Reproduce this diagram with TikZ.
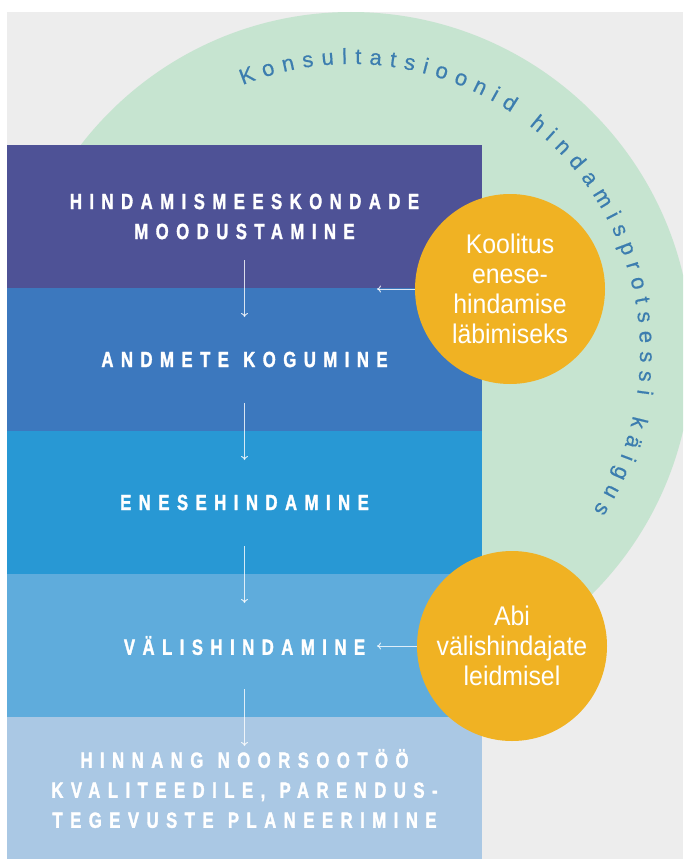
\documentclass[tikz,border=0pt]{standalone}
\usepackage{fontspec}
\setmainfont{Liberation Sans}
\newfontfamily\bandfont{Liberation Sans Bold}[FakeStretch=0.76,LetterSpace=34,FakeBold=1.5]
\newfontfamily\roundfont{Liberation Sans}[FakeStretch=0.92]
\newfontfamily\curvefont{Liberation Sans}[FakeBold=0.5]
\newcommand{\wgap}{\hspace{7pt} }
\usetikzlibrary{positioning,arrows.meta,decorations.text}
\definecolor{paper}{RGB}{237,237,237}
\definecolor{mint}{RGB}{198,228,208}
\definecolor{arcblue}{RGB}{60,125,175}
\definecolor{gold}{RGB}{240,178,35}
\definecolor{bandA}{RGB}{78,82,150}
\definecolor{bandB}{RGB}{60,120,190}
\definecolor{bandC}{RGB}{40,152,212}
\definecolor{bandD}{RGB}{95,172,220}
\definecolor{bandE}{RGB}{170,200,228}

\begin{document}
\begin{tikzpicture}[x=1pt, y=1pt,
    band/.style={rectangle, minimum width=475pt, minimum height=143pt, inner sep=0pt, outer sep=0pt, text=white, text width=465pt, align=center, font=\bandfont\fontsize{22}{30}\selectfont},
    bubble/.style={circle, fill=gold, minimum size=190pt, inner sep=0pt, text=white, align=center, font=\roundfont\fontsize{27}{30}\selectfont},
    flow/.style={-{To[length=4pt,width=7pt]}, draw=white, opacity=0.8, line width=1pt}]

\useasboundingbox (0,0) rectangle (683,-859);
\fill [white] (0,0) rectangle (683,-859);
\fill [paper] (7,-12) rectangle (683,-859);
\coordinate (hub) at (351,-353);
\begin{scope}
\clip (7,-12) rectangle (683,-859);
\fill [mint] (hub) circle [radius=341];
\end{scope}
\path [decorate, decoration={text along path, text align={fit to path}, text={|\curvefont\fontsize{22}{22}\selectfont\color{arcblue}|Konsultatsioonid hindamisprotsessi käigus}}] (hub) ++(112:289) arc [start angle=112, end angle=-33, radius=289];

\node [band, fill=bandA] (moodustamine) at (244.5,-216.5) {HINDAMISMEESKONDADE\\MOODUSTAMINE};
\node [band, fill=bandB, below=0pt of moodustamine] (kogumine) {ANDMETE\wgap KOGUMINE};
\node [band, fill=bandC, below=0pt of kogumine] (enesehindamine) {ENESEHINDAMINE};
\node [band, fill=bandD, below=0pt of enesehindamine] (valishindamine) {VÄLISHINDAMINE};
\node [band, fill=bandE, below=0pt of valishindamine] (hinnang) {HINNANG\wgap NOORSOOTÖÖ\\KVALITEEDILE,\wgap PARENDUS-\\TEGEVUSTE\wgap PLANEERIMINE};

\node [bubble] (koolitus) at (510,-289) {Koolitus\\enese-\\hindamise\\läbimiseks};
\node [bubble] (abi) at (512,-646) {Abi\\välishindajate\\leidmisel};

\coordinate (koolitus_tip) at (377,-289);
\coordinate (abi_tip) at (377,-646);

\draw [flow] ([yshift=28pt]moodustamine.south) -- ([yshift=-29pt]kogumine.north);
\draw [flow] ([yshift=28pt]kogumine.south) -- ([yshift=-29pt]enesehindamine.north);
\draw [flow] ([yshift=28pt]enesehindamine.south) -- ([yshift=-29pt]valishindamine.north);
\draw [flow] ([yshift=28pt]valishindamine.south) -- ([yshift=-29pt]hinnang.north);
\draw [flow] (koolitus.west) -- (koolitus_tip);
\draw [flow] (abi.west) -- (abi_tip);

\end{tikzpicture}
\end{document}
